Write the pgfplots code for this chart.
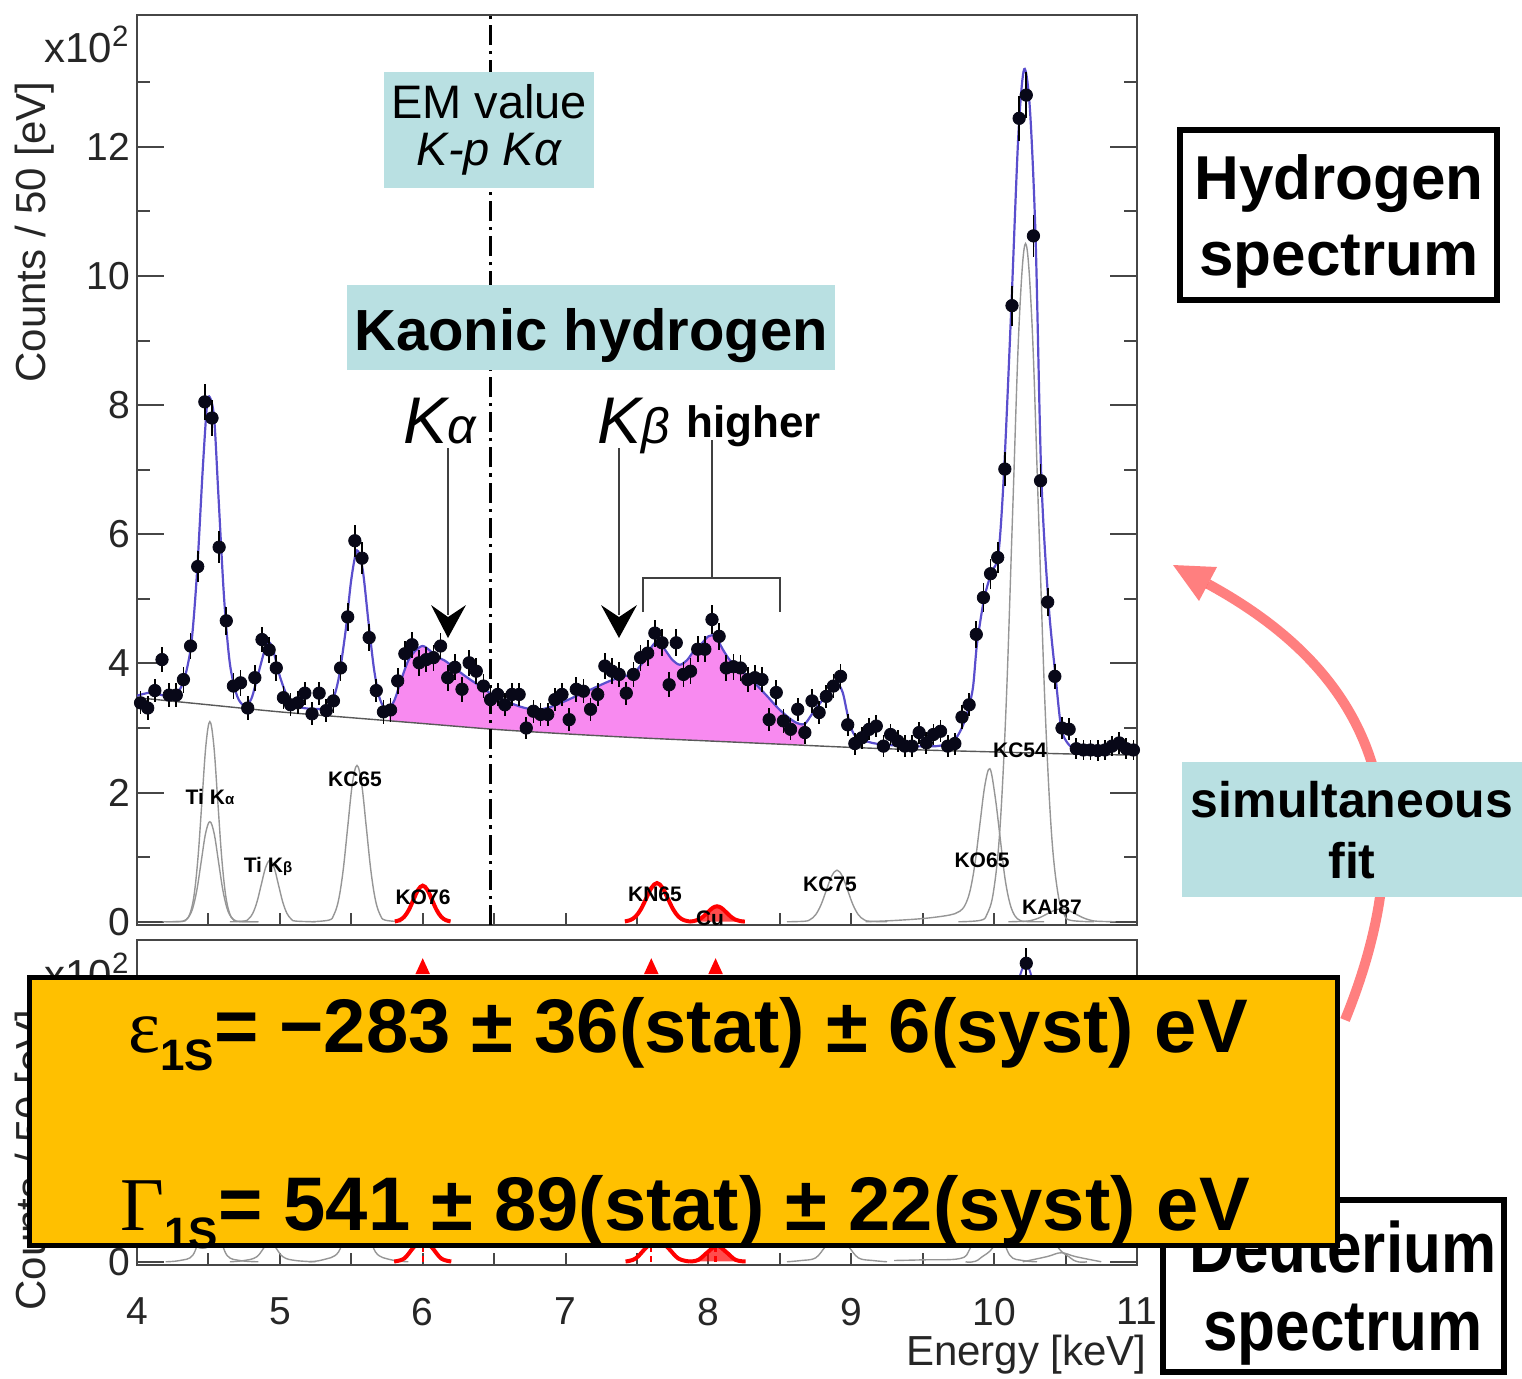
\documentclass[border=0pt]{standalone}
\usepackage{pgfplots}
\pgfplotsset{compat=1.18}
\usepackage{pgfplotstable}
\usepackage{fontspec}
\setmainfont{Liberation Sans}
\newfontfamily\serifgreek{Liberation Serif}
\usetikzlibrary{arrows.meta}

\definecolor{fitblue}{RGB}{90,78,205}
\definecolor{kpink}{RGB}{248,138,240}
\definecolor{boxblue}{RGB}{185,224,226}
\definecolor{orangebox}{RGB}{255,192,0}
\definecolor{compgrey}{RGB}{150,150,150}
\definecolor{framegrey}{RGB}{70,70,70}
\definecolor{dotcol}{RGB}{8,8,24}

\pgfplotstableread{
x y e
4.025 3.39 0.18
4.075 3.31 0.18
4.125 3.58 0.18
4.175 4.06 0.20
4.225 3.51 0.18
4.275 3.51 0.18
4.325 3.75 0.20
4.375 4.27 0.20
4.425 5.50 0.24
4.475 8.05 0.28
4.525 7.80 0.28
4.575 5.80 0.25
4.625 4.66 0.22
4.675 3.65 0.20
4.725 3.70 0.20
4.775 3.31 0.18
4.825 3.78 0.20
4.875 4.37 0.20
4.925 4.21 0.20
4.975 3.93 0.20
5.025 3.47 0.18
5.075 3.36 0.18
5.125 3.39 0.18
5.175 3.54 0.18
5.225 3.22 0.18
5.275 3.54 0.18
5.325 3.27 0.18
5.375 3.42 0.18
5.425 3.93 0.20
5.475 4.72 0.22
5.525 5.90 0.25
5.575 5.63 0.25
5.625 4.40 0.21
5.675 3.58 0.18
5.725 3.25 0.18
5.775 3.28 0.18
5.825 3.73 0.20
5.875 4.15 0.20
5.925 4.29 0.20
5.975 4.01 0.20
6.025 4.06 0.20
6.075 4.09 0.20
6.125 4.27 0.20
6.175 3.78 0.20
6.225 3.94 0.20
6.275 3.60 0.19
6.325 4.01 0.20
6.375 3.88 0.20
6.425 3.65 0.19
6.475 3.44 0.18
6.525 3.52 0.18
6.575 3.36 0.18
6.625 3.52 0.18
6.675 3.52 0.18
6.725 3.00 0.17
6.775 3.26 0.18
6.825 3.21 0.18
6.875 3.21 0.18
6.925 3.44 0.18
6.975 3.52 0.18
7.025 3.13 0.18
7.075 3.60 0.19
7.125 3.57 0.19
7.175 3.29 0.18
7.225 3.52 0.18
7.275 3.96 0.20
7.325 3.88 0.20
7.375 3.83 0.20
7.425 3.54 0.18
7.475 3.83 0.20
7.525 4.09 0.20
7.575 4.16 0.20
7.625 4.47 0.21
7.675 4.32 0.21
7.725 3.67 0.19
7.775 4.32 0.21
7.825 3.83 0.20
7.875 3.88 0.20
7.925 4.22 0.20
7.975 4.22 0.20
8.025 4.68 0.22
8.075 4.42 0.21
8.125 3.93 0.20
8.175 3.95 0.20
8.225 3.93 0.20
8.275 3.75 0.19
8.325 3.78 0.19
8.375 3.75 0.19
8.425 3.13 0.18
8.475 3.55 0.19
8.525 3.11 0.18
8.575 2.98 0.17
8.625 3.29 0.18
8.675 2.93 0.17
8.725 3.42 0.18
8.775 3.24 0.18
8.825 3.49 0.18
8.875 3.65 0.19
8.925 3.80 0.19
8.975 3.05 0.17
9.025 2.76 0.17
9.075 2.85 0.17
9.125 2.98 0.17
9.175 3.03 0.17
9.225 2.72 0.17
9.275 2.90 0.17
9.325 2.80 0.17
9.375 2.72 0.17
9.425 2.72 0.17
9.475 2.93 0.17
9.525 2.77 0.17
9.575 2.90 0.17
9.625 2.95 0.17
9.675 2.72 0.17
9.725 2.76 0.17
9.775 3.17 0.18
9.825 3.36 0.18
9.875 4.45 0.21
9.925 5.02 0.22
9.975 5.39 0.23
10.025 5.64 0.24
10.075 7.01 0.26
10.125 9.54 0.31
10.175 12.44 0.35
10.225 12.80 0.36
10.275 10.62 0.33
10.325 6.83 0.26
10.375 4.95 0.22
10.425 3.80 0.19
10.475 3.00 0.17
10.525 2.98 0.17
10.575 2.68 0.16
10.625 2.66 0.16
10.675 2.66 0.16
10.725 2.65 0.16
10.775 2.66 0.16
10.825 2.72 0.16
10.875 2.77 0.17
10.925 2.68 0.16
10.975 2.66 0.16
}\hdata

\pgfplotstableread{
x y
4.00 3.50
4.10 3.55
4.20 3.50
4.28 3.55
4.33 3.75
4.38 4.30
4.42 5.40
4.46 7.00
4.49 8.00
4.51 8.12
4.54 7.80
4.57 6.60
4.61 5.00
4.65 4.00
4.70 3.50
4.75 3.35
4.80 3.45
4.85 3.85
4.90 4.25
4.93 4.32
4.96 4.15
5.00 3.80
5.05 3.50
5.10 3.35
5.20 3.30
5.30 3.30
5.36 3.38
5.41 3.75
5.46 4.50
5.50 5.30
5.54 5.75
5.58 5.45
5.62 4.65
5.66 3.90
5.70 3.45
5.75 3.28
5.80 3.42
5.85 3.75
5.90 4.05
5.95 4.20
6.00 4.27
6.05 4.20
6.10 4.10
6.15 4.05
6.20 3.97
6.30 3.80
6.40 3.65
6.50 3.50
6.60 3.40
6.70 3.32
6.80 3.28
6.90 3.33
7.00 3.42
7.10 3.52
7.20 3.62
7.30 3.72
7.40 3.80
7.45 3.82
7.50 3.90
7.55 4.05
7.60 4.25
7.65 4.35
7.70 4.20
7.75 4.05
7.80 3.98
7.85 4.05
7.90 4.20
7.95 4.30
8.00 4.42
8.05 4.42
8.10 4.22
8.15 4.05
8.20 3.95
8.30 3.75
8.40 3.52
8.50 3.28
8.60 3.10
8.67 3.06
8.72 3.20
8.78 3.38
8.84 3.55
8.90 3.68
8.94 3.55
8.98 3.15
9.02 2.90
9.10 2.80
9.20 2.75
9.40 2.72
9.60 2.72
9.70 2.78
9.75 2.90
9.80 3.15
9.85 3.60
9.88 4.30
9.93 5.00
9.98 5.40
10.03 5.70
10.07 7.00
10.12 9.50
10.17 12.20
10.21 13.20
10.25 12.60
10.29 10.60
10.33 6.90
10.38 4.95
10.43 3.80
10.47 3.00
10.52 2.75
10.60 2.62
10.70 2.60
10.80 2.65
10.85 2.70
10.90 2.68
11.00 2.65
}\hfit

\pgfplotsset{
  panel/.style={
    scale only axis, width=500pt,
    xmin=4, xmax=11,
    axis line style={framegrey, line width=1.2pt},
    tick style={framegrey, line width=1pt},
    major tick length=13.5pt, minor tick length=6.5pt,
    xtick style={/pgfplots/major tick length=6pt},
    xtick pos=left, ytick pos=both,
    tick label style={font=\fontsize{19.5}{22}\selectfont, text=black!85},
    /pgf/number format/assume math mode=true,
  },
  comp/.style={compgrey, line width=0.7pt, smooth, tension=0.6},
  redcomp/.style={red, line width=2pt, smooth, tension=0.6},
}

\begin{document}
\begin{tikzpicture}
\begin{scope}[x=0.5pt,y=-0.5pt]
\path[use as bounding box] (0,0) rectangle (1522,1378);
\end{scope}

% ---------------- lower (deuterium) panel ----------------
\begin{axis}[panel,
  at={(68.5pt,-632.5pt)}, anchor=south west, height=162.5pt,
  ymin=-0.05, ymax=4.98,
  xtick={4,4.5,...,11}, xticklabels={4,,5,,6,,7,,8,,9,,10,,11},
  xticklabel style={yshift=-13pt},
  ytick={0,2,4}, minor ytick={1,3},
]
\addplot[comp] coordinates {(4.20,0) (4.30,0.02) (4.39,0.1) (4.45,0.45) (4.51,0.7) (4.57,0.45) (4.63,0.1) (4.72,0.02) (4.85,0)};
\addplot[comp] coordinates {(4.65,0) (4.75,0.02) (4.84,0.08) (4.93,0.3) (5.02,0.08) (5.11,0.02) (5.25,0)};
\addplot[comp] coordinates {(5.20,0) (5.30,0.03) (5.41,0.15) (5.475,0.6) (5.54,0.9) (5.605,0.6) (5.67,0.15) (5.78,0.03) (5.90,0)};
\addplot[comp] coordinates {(8.55,0) (8.65,0.02) (8.75,0.06) (8.825,0.25) (8.9,0.38) (8.975,0.25) (9.05,0.06) (9.15,0.02) (9.25,0)};
\addplot[comp] coordinates {(9.30,0.02) (9.5,0.03) (9.76,0.05) (9.83,0.2) (9.9,0.6) (9.97,0.85) (10.04,0.5) (10.11,0.1) (10.2,0.02) (10.3,0)};
\addplot[comp] coordinates {(9.80,0) (9.9,0.05) (10.04,0.5) (10.13,2.3) (10.22,3.8) (10.31,2.3) (10.40,0.5) (10.54,0.05) (10.65,0)};
\addplot[comp] coordinates {(10.2,0) (10.37,0.08) (10.47,0.14) (10.57,0.08) (10.75,0)};
\addplot[redcomp] coordinates {(5.80,0.005) (5.87,0.05) (5.935,0.22) (6.0,0.35) (6.065,0.22) (6.13,0.05) (6.20,0.005)};
\addplot[redcomp] coordinates {(7.42,0.005) (7.49,0.05) (7.565,0.22) (7.64,0.35) (7.715,0.22) (7.79,0.05) (7.87,0.005)};
\addplot[redcomp, fill=red, fill opacity=0.7] coordinates {(7.87,0.005) (7.93,0.03) (7.995,0.15) (8.06,0.25) (8.125,0.15) (8.19,0.03) (8.26,0.005)};
\addplot[fitblue, line width=1pt, smooth] coordinates {(9.9,2.7) (10.0,3.2) (10.1,3.8) (10.2,4.55) (10.25,4.5) (10.35,3.6) (10.5,2.7)};
\addplot[only marks, mark=*, mark size=3.1pt, color=dotcol,
  error bars/.cd, y dir=both, y explicit, error mark=none,
  error bar style={line width=0.9pt, black}]
  coordinates {(10.225,4.62) +- (0,0.24)};
\draw[red, densely dashed, line width=1.1pt, -{Triangle[width=7pt,length=8pt]}] (axis cs:6.0,0) -- (axis cs:6.0,4.70);
\draw[red, densely dashed, line width=1.1pt, -{Triangle[width=7pt,length=8pt]}] (axis cs:7.6,0) -- (axis cs:7.6,4.70);
\draw[red, densely dashed, line width=1.1pt, -{Triangle[width=7pt,length=8pt]}] (axis cs:8.05,0) -- (axis cs:8.05,4.70);
\end{axis}

% ---------------- upper (hydrogen) panel ----------------
\begin{axis}[panel,
  at={(68.5pt,-462.5pt)}, anchor=south west, height=455pt,
  ymin=-0.05, ymax=14.04,
  xtick={4,4.5,...,11}, xticklabels={},
  ytick={0,2,...,12}, minor ytick={1,3,...,13},
]
% kaonic hydrogen signal (pink)
\addplot[fill=kpink, draw=none] coordinates {
(5.76,3.12) (5.80,3.42) (5.85,3.75) (5.90,4.05) (5.95,4.2) (6.00,4.27) (6.05,4.2) (6.10,4.1) (6.15,4.05) (6.20,3.97) (6.30,3.8) (6.40,3.65) (6.50,3.5) (6.60,3.4) (6.70,3.32) (6.80,3.28) (6.90,3.33) (7.00,3.42) (7.10,3.52) (7.20,3.62) (7.30,3.72) (7.40,3.8) (7.45,3.82) (7.50,3.9) (7.55,4.05) (7.60,4.25) (7.65,4.35) (7.70,4.2) (7.75,4.05) (7.80,3.98) (7.85,4.05) (7.90,4.2) (7.95,4.3) (8.00,4.42) (8.05,4.42) (8.10,4.22) (8.15,4.05) (8.20,3.95) (8.30,3.75) (8.40,3.52) (8.50,3.28) (8.60,3.1) (8.67,3.06) (8.67,2.74) (8.5,2.75) (8.0,2.80) (7.5,2.85) (7.0,2.91) (6.5,2.98) (6.0,3.07) (5.76,3.12)} -- cycle;
% background
\addplot[black!65, line width=0.7pt, smooth] coordinates {
(4.0,3.47) (4.5,3.36) (5.0,3.25) (5.5,3.16) (6.0,3.07) (6.5,2.98) (7.0,2.91) (7.5,2.85) (8.0,2.80) (8.5,2.75) (9.0,2.70) (9.5,2.66) (10.0,2.63) (10.5,2.60) (11.0,2.58)};
% grey components
\addplot[comp] coordinates {(4.20,0) (4.3175,0.007) (4.345,0.034) (4.3725,0.136) (4.40,0.419) (4.4275,1.007) (4.455,1.880) (4.4825,2.736) (4.51,3.1) (4.5375,2.736) (4.565,1.880) (4.5925,1.007) (4.62,0.419) (4.6475,0.136) (4.675,0.034) (4.7025,0.007) (4.85,0)};
\addplot[comp] coordinates {(4.18,0) (4.30,0.003) (4.33,0.017) (4.36,0.068) (4.39,0.210) (4.42,0.503) (4.45,0.940) (4.48,1.368) (4.51,1.55) (4.54,1.368) (4.57,0.940) (4.60,0.503) (4.63,0.210) (4.66,0.068) (4.69,0.017) (4.72,0.003) (4.85,0)};
\addplot[comp] coordinates {(4.65,0) (4.75,0.011) (4.78,0.042) (4.81,0.129) (4.84,0.308) (4.87,0.576) (4.90,0.838) (4.93,0.95) (4.96,0.838) (4.99,0.576) (5.02,0.308) (5.05,0.129) (5.08,0.042) (5.11,0.011) (5.25,0)};
\addplot[comp] coordinates {(5.22,0) (5.345,0.027) (5.3775,0.106) (5.41,0.327) (5.4425,0.786) (5.475,1.468) (5.5075,2.136) (5.54,2.42) (5.5725,2.136) (5.605,1.468) (5.6375,0.786) (5.67,0.327) (5.7025,0.106) (5.735,0.027) (5.85,0)};
\addplot[comp] coordinates {(8.55,0) (8.675,0.009) (8.7125,0.035) (8.75,0.108) (8.7875,0.260) (8.825,0.485) (8.8625,0.706) (8.9,0.8) (8.9375,0.706) (8.975,0.485) (9.0125,0.260) (9.05,0.108) (9.0875,0.035) (9.125,0.009) (9.25,0)};
\addplot[comp] coordinates {(9.10,0) (9.30,0.02) (9.50,0.05) (9.65,0.09) (9.725,0.125) (9.76,0.164) (9.795,0.253) (9.83,0.467) (9.865,0.888) (9.90,1.506) (9.935,2.111) (9.97,2.37) (10.005,1.97) (10.04,1.34) (10.075,0.688) (10.11,0.287) (10.145,0.093) (10.18,0.024) (10.215,0.005) (10.35,0)};
\addplot[comp] coordinates {(9.75,0) (9.905,0.023) (9.95,0.117) (9.995,0.461) (10.04,1.421) (10.085,3.409) (10.13,6.368) (10.175,9.266) (10.22,10.5) (10.265,9.266) (10.31,6.368) (10.355,3.409) (10.40,1.421) (10.445,0.461) (10.49,0.117) (10.535,0.023) (10.7,0)};
\addplot[comp] coordinates {(10.10,0) (10.22,0.009) (10.27,0.027) (10.32,0.065) (10.37,0.121) (10.42,0.176) (10.47,0.2) (10.52,0.176) (10.57,0.121) (10.62,0.065) (10.67,0.027) (10.72,0.009) (10.85,0)};
% red components
\addplot[redcomp] coordinates {(5.805,0.006) (5.8375,0.025) (5.87,0.076) (5.9025,0.182) (5.935,0.340) (5.9675,0.494) (6.0,0.56) (6.0325,0.494) (6.065,0.340) (6.0975,0.182) (6.13,0.076) (6.1625,0.025) (6.195,0.006)};
\addplot[redcomp] coordinates {(7.415,0.007) (7.4525,0.026) (7.49,0.081) (7.5275,0.195) (7.565,0.364) (7.6025,0.530) (7.64,0.6) (7.6775,0.530) (7.715,0.364) (7.7525,0.195) (7.79,0.081) (7.8275,0.026) (7.865,0.007)};
\addplot[redcomp, fill=red, fill opacity=0.7] coordinates {(7.865,0.003) (7.8975,0.011) (7.93,0.032) (7.9625,0.078) (7.995,0.146) (8.0275,0.212) (8.06,0.24) (8.0925,0.212) (8.125,0.146) (8.1575,0.078) (8.19,0.032) (8.2225,0.011) (8.255,0.003)};
% EM value line
\addplot[black, line width=1.3pt, dash pattern=on 10pt off 3pt on 1.6pt off 3pt] coordinates {(6.475,-0.05) (6.475,14.04)};
% fit
\addplot[fitblue, line width=1.1pt, smooth, tension=0.5] table[x=x,y=y] {\hfit};
% data
\addplot[only marks, mark=*, mark size=3.1pt, color=dotcol,
  error bars/.cd, y dir=both, y explicit, error mark=none,
  error bar style={line width=0.9pt, black}]
  table[x=x, y=y, y error=e] {\hdata};
\end{axis}

% ---------------- annotations (pixel coordinates) ----------------
\begin{scope}[x=0.5pt,y=-0.5pt]
% axis labels
\node[rotate=90, font=\fontsize{21}{24}\selectfont, text=black!85] at (35,232) {Counts / 50 [eV]};
\node[anchor=base east, font=\fontsize{21}{24}\selectfont, text=black!85, inner sep=0] at (130,62) {x10\textsuperscript{2}};
\node[rotate=90, font=\fontsize{21}{24}\selectfont, text=black!85] at (35,1160) {Counts / 50 [eV]};
\node[anchor=base east, font=\fontsize{21}{24}\selectfont, text=black!85, inner sep=0] at (130,989) {x10\textsuperscript{2}};
\node[anchor=base east, font=\fontsize{21}{24}\selectfont, text=black!85, inner sep=0] at (1147,1365) {Energy [keV]};

% component labels
\begin{scope}[every node/.style={font=\fontsize{10.5}{12}\selectfont\bfseries, inner sep=0}]
\node at (210,797) {Ti K{\fontsize{7.5}{9}\selectfont α}};
\node at (268,866) {Ti K{\fontsize{7.5}{9}\selectfont β}};
\node at (355,779) {KC65};
\node at (423,897) {KO76};
\node at (655,894) {KN65};
\node at (710,918) {Cu};
\node at (830,884) {KC75};
\node at (982,860) {KO65};
\node at (1020,750) {KC54};
\node at (1052,907) {KAl87};
\end{scope}

% EM value box
\fill[boxblue] (384,72) rectangle (594,188);
\node[anchor=base, font=\fontsize{23.5}{27}\selectfont, inner sep=0] at (489,118) {EM value};
\node[anchor=base, font=\fontsize{23.5}{27}\selectfont\itshape, inner sep=0] at (489,165) {K-p Kα};

% Kaonic hydrogen box
\fill[boxblue] (347,285) rectangle (835,370);
\node[anchor=base, font=\fontsize{29}{34}\selectfont\bfseries, inner sep=0] at (591,350) {Kaonic hydrogen};

% K alpha, K beta, higher
\node[anchor=base west, inner sep=0] at (403,443) {{\fontsize{33}{38}\selectfont\itshape K}{\fontsize{25}{30}\selectfont\itshape α}};
\node[anchor=base west, inner sep=0] at (597,443) {{\fontsize{33}{38}\selectfont\itshape K}{\fontsize{25}{30}\selectfont\itshape β}};
\node[anchor=base west, font=\fontsize{22}{26}\selectfont\bfseries, inner sep=0] at (686,437) {higher};
\draw[black!75, line width=1.1pt] (448,448) -- (448,615);
\fill[black] (448,638) -- (431,605) -- (448,617) -- (466,605) -- cycle;
\draw[black!75, line width=1.1pt] (619,448) -- (619,615);
\fill[black] (619,638) -- (601,605) -- (619,617) -- (637,605) -- cycle;
\draw[black!75, line width=1.1pt] (712,440) -- (712,578);
\draw[black!75, line width=1.1pt] (643,612) -- (643,578) -- (780,578) -- (780,612);

% Hydrogen spectrum box
\draw[line width=3pt, fill=white] (1180,130) rectangle (1497,300);
\node[anchor=base, font=\fontsize{31}{36}\selectfont\bfseries, inner sep=0] at (1339,199) {Hydrogen};
\node[anchor=base, font=\fontsize{31}{36}\selectfont\bfseries, inner sep=0] at (1339,275) {spectrum};

% curved arrow
\draw[red, opacity=0.5, line width=5pt] (1345,1020) .. controls (1443,779) and (1340,656) .. (1208,584);
\fill[red, opacity=0.5] (1173,565) -- (1217,567) -- (1199,601) -- cycle;

% simultaneous fit box
\fill[boxblue] (1182,762) rectangle (1522,897);
\node[anchor=base, font=\fontsize{25}{30}\selectfont\bfseries, inner sep=0] at (1352,817) {simultaneous};
\node[anchor=base, font=\fontsize{25}{30}\selectfont\bfseries, inner sep=0] at (1352,878) {fit};

% Deuterium spectrum box
\draw[line width=3pt, fill=white] (1163,1200) rectangle (1504,1372);
\node[anchor=base, font=\fontsize{31}{36}\selectfont\bfseries, inner sep=0] at (1343,1272) {\scalebox{1}[1.15]{Deuterium}};
\node[anchor=base, font=\fontsize{31}{36}\selectfont\bfseries, inner sep=0] at (1343,1350) {\scalebox{1}[1.15]{spectrum}};

% result box
\draw[line width=2.5pt, fill=orangebox] (29.5,977.5) rectangle (1337.5,1245.5);
\node[anchor=base west, inner sep=0] at (128,1052) {{\serifgreek\fontsize{38}{42}\selectfont ε}\raisebox{-9pt}{\fontsize{22}{26}\selectfont\bfseries 1S}{\fontsize{38}{42}\selectfont\bfseries = −283 ± 36(stat) ± 6(syst) eV}};
\node[anchor=base west, inner sep=0] at (120,1230) {{\serifgreek\fontsize{38}{42}\selectfont Γ}\raisebox{-9pt}{\fontsize{22}{26}\selectfont\bfseries 1S}{\fontsize{38}{42}\selectfont\bfseries = 541 ± 89(stat) ± 22(syst) eV}};
\end{scope}
\end{tikzpicture}
\end{document}
